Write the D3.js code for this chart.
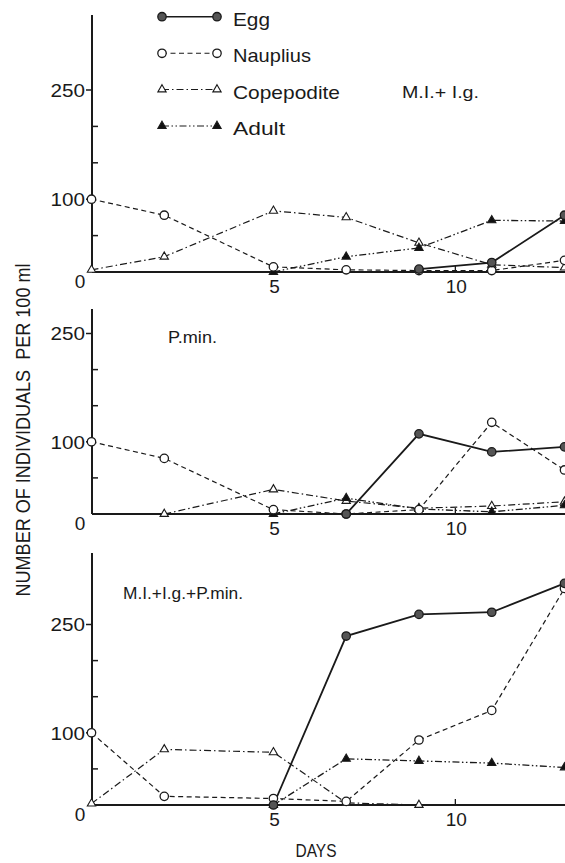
<!DOCTYPE html>
<html>
<head>
<meta charset="utf-8">
<script src="https://cdn.jsdelivr.net/npm/d3@7"></script>
<style>
  html, body { margin: 0; padding: 0; background: #fff; }
  svg { display: block; }
  text { fill: #1a1a1a; font-family: "Liberation Sans", Arial, sans-serif; }
</style>
</head>
<body>
<svg id="chart" width="565" height="863"></svg>
<script>
// Sampling days (x axis)
const days = [0, 2, 5, 7, 9, 11, 13];

// Stage names, in legend order
const stages = ["Egg", "Nauplius", "Copepodite", "Adult"];

// Culture labels, one per panel
const panelLabels = ["M.I.+ I.g.", "P.min.", "M.I.+I.g.+P.min."];

// Individuals per 100 ml — M.I. + I.g.
const eggA        = [null, null, null, null, 4, 13, 78];
const naupliusA   = [100, 78, 7, 3, 2, 2, 16];
const copepoditeA = [3, 21, 84, 75, 40, 10, 6];
const adultA      = [null, null, 0, 21, 33, 71, 70];

// Individuals per 100 ml — P.min.
const eggB        = [null, null, null, 0, 111, 86, 93];
const naupliusB   = [100, 77, 6, 0, 6, 127, 61];
const copepoditeB = [null, 0, 34, 18, 8, 11, 17];
const adultB      = [null, null, 0, 22, 7, 3, 12];

// Individuals per 100 ml — M.I. + I.g. + P.min.
const eggC        = [null, null, 0, 234, 264, 267, 307];
const naupliusC   = [100, 12, 9, 5, 90, 131, 300];
const copepoditeC = [2, 77, 73, 3, 0, null, null];
const adultC      = [null, null, 0, 64, 61, 58, 52];

// Axis ticks
const yTicks = [0, 50, 100, 150, 200, 250];
const yTickLabels = ["0", "", "100", "", "", "250"];
const xTicks = [5, 10];

const panelData = [
  [eggA, naupliusA, copepoditeA, adultA],
  [eggB, naupliusB, copepoditeB, adultB],
  [eggC, naupliusC, copepoditeC, adultC]
];

// Layout of the three stacked panels (pixel geometry)
const panelGeom = [
  { base: 272, y250: 90,    axisTop: 15,  label: { x: 402, y: 98,  len: 77 } },
  { base: 514, y250: 333.5, axisTop: 309, label: { x: 168, y: 343, len: 49 } },
  { base: 805, y250: 624.5, axisTop: 553, label: { x: 123, y: 599, len: 120 } }
];

// Line / marker styling per stage
const styles = {
  Egg:        { dash: null,             width: 1.8, shape: "circle",   fill: "#555" },
  Nauplius:   { dash: "5,3.5",          width: 1.2, shape: "circle",   fill: "#fff" },
  Copepodite: { dash: "7,3,1.5,3",      width: 1.2, shape: "triangle", fill: "#fff" },
  Adult:      { dash: "7,2.5,1.5,2.5,1.5,2.5", width: 1.3, shape: "triangle", fill: "#111" }
};
// Markers are painted in this order so the later ones sit on top
const drawOrder = ["Copepodite", "Adult", "Nauplius", "Egg"];

const svg = d3.select("#chart");
const x = d3.scaleLinear().domain([0, 13]).range([91.5, 564.5]);
const axisX = 92;
const ink = "#1a1a1a";

function drawMarker(g, shape, fill, cx, cy) {
  if (shape === "circle") {
    g.append("circle")
      .attr("cx", cx).attr("cy", cy).attr("r", 4.2)
      .attr("fill", fill).attr("stroke", ink).attr("stroke-width", 1.3);
  } else {
    g.append("path")
      .attr("d", d3.symbol(d3.symbolTriangle, 30)())
      .attr("transform", `translate(${cx},${cy})`)
      .attr("fill", fill).attr("stroke", ink).attr("stroke-width", 1.1);
  }
}

panelGeom.forEach((pg, pi) => {
  const y = d3.scaleLinear().domain([0, 250]).range([pg.base, pg.y250]);
  const g = svg.append("g");

  // vertical axis
  g.append("line")
    .attr("x1", axisX).attr("x2", axisX)
    .attr("y1", pg.axisTop).attr("y2", pg.base)
    .attr("stroke", ink).attr("stroke-width", 2);
  // horizontal axis
  g.append("line")
    .attr("x1", axisX).attr("x2", 565)
    .attr("y1", pg.base).attr("y2", pg.base)
    .attr("stroke", ink).attr("stroke-width", 2);

  // y ticks: labelled ones point outward, minor ones inward
  yTicks.forEach((t, i) => {
    if (t === 0) return;
    const yy = y(t);
    const lab = yTickLabels[i];
    g.append("line")
      .attr("x1", lab ? axisX - 6 : axisX).attr("x2", lab ? axisX : axisX + 6)
      .attr("y1", yy).attr("y2", yy)
      .attr("stroke", ink).attr("stroke-width", 1.5);
    if (lab) {
      g.append("text")
        .attr("x", axisX - 7).attr("y", yy).attr("dy", "0.36em")
        .attr("text-anchor", "end").attr("font-size", 19)
        .attr("textLength", lab.length * 11.5).attr("lengthAdjust", "spacingAndGlyphs")
        .text(lab);
    }
  });
  // zero label sits below-left of the origin
  g.append("text")
    .attr("x", axisX - 12).attr("y", y(0) + 9).attr("dy", "0.36em")
    .attr("text-anchor", "middle").attr("font-size", 19)
    .text(yTickLabels[0]);

  // x ticks and labels
  xTicks.forEach(t => {
    g.append("line")
      .attr("x1", x(t)).attr("x2", x(t))
      .attr("y1", pg.base).attr("y2", pg.base - 6)
      .attr("stroke", ink).attr("stroke-width", 1.3);
    g.append("text")
      .attr("x", x(t) + 1).attr("y", pg.base + 14).attr("dy", "0.36em")
      .attr("text-anchor", "middle").attr("font-size", 19)
      .text(t);
  });

  // series lines
  const seriesList = panelData[pi];
  stages.forEach((name, si) => {
    const st = styles[name];
    const pts = days.map((d, k) => ({ d, v: seriesList[si][k] }));
    const line = d3.line()
      .defined(p => p.v !== null)
      .x(p => x(p.d)).y(p => y(p.v));
    g.append("path")
      .attr("d", line(pts))
      .attr("fill", "none").attr("stroke", ink)
      .attr("stroke-width", st.width)
      .attr("stroke-dasharray", st.dash);
  });

  // markers
  drawOrder.forEach(name => {
    const si = stages.indexOf(name);
    const st = styles[name];
    days.forEach((d, k) => {
      const v = seriesList[si][k];
      if (v === null) return;
      drawMarker(g, st.shape, st.fill, x(d), y(v));
    });
  });

  // panel label
  g.append("text")
    .attr("x", pg.label.x).attr("y", pg.label.y)
    .attr("font-size", 16)
    .attr("textLength", pg.label.len).attr("lengthAdjust", "spacingAndGlyphs")
    .text(panelLabels[pi]);
});

// legend
const legendRows = [16.7, 53.3, 89.5, 126];
const legendWidths = [37, 78, 107, 52];
stages.forEach((name, i) => {
  const st = styles[name];
  const ly = legendRows[i];
  const lg = svg.append("g");
  lg.append("line")
    .attr("x1", 162).attr("x2", 217).attr("y1", ly).attr("y2", ly)
    .attr("stroke", ink).attr("stroke-width", name === "Egg" ? 1.5 : 1.1)
    .attr("stroke-dasharray", st.dash);
  drawMarker(lg, st.shape, st.fill, 162, ly);
  drawMarker(lg, st.shape, st.fill, 217, ly);
  lg.append("text")
    .attr("x", 233).attr("y", ly + 9)
    .attr("font-size", 19)
    .attr("textLength", legendWidths[i]).attr("lengthAdjust", "spacingAndGlyphs")
    .text(name);
});

// axis titles
svg.append("text")
  .attr("transform", "translate(30,430) rotate(-90)")
  .attr("text-anchor", "middle")
  .attr("font-size", 20)
  .style("font-family", "'Liberation Sans Narrow', 'Liberation Sans', sans-serif")
  .style("white-space", "pre")
  .attr("textLength", 333).attr("lengthAdjust", "spacingAndGlyphs")
  .text("NUMBER OF INDIVIDUALS  PER 100 ml");

svg.append("text")
  .attr("x", 316).attr("y", 857)
  .attr("text-anchor", "middle")
  .attr("font-size", 18)
  .attr("textLength", 41).attr("lengthAdjust", "spacingAndGlyphs")
  .text("DAYS");
</script>
</body>
</html>
